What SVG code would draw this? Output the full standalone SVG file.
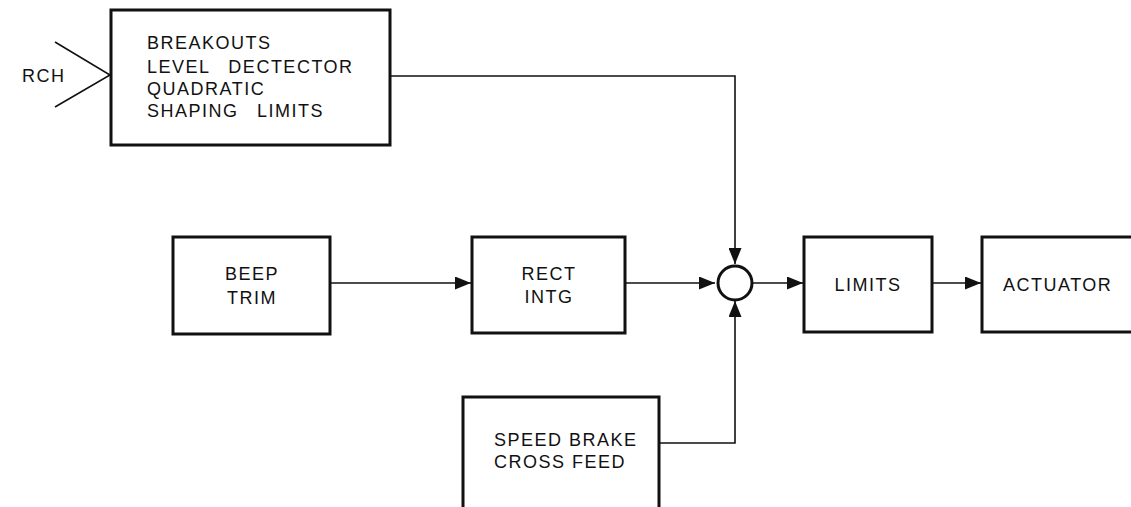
<svg xmlns="http://www.w3.org/2000/svg" width="1131" height="507" viewBox="0 0 1131 507">
<style>
.box{fill:#fff;stroke:#111;stroke-width:3}
.ln{fill:none;stroke:#111;stroke-width:1.6}
text{font-family:"Liberation Sans",Arial,sans-serif;font-size:18px;fill:#111;letter-spacing:1.5px}
.c{text-anchor:middle}
.ws{word-spacing:12px}
</style>
<defs>
<marker id="ah" viewBox="0 0 16 13" refX="16" refY="6.5" markerWidth="16" markerHeight="13" markerUnits="userSpaceOnUse" orient="auto">
<path d="M0,0 L16,6.5 L0,13 Z" fill="#111"/>
</marker>
</defs>
<rect width="1131" height="507" fill="#fff"/>
<g id="connectors">
<polyline class="ln" points="55,42 110,75 55,107"/>
<polyline class="ln" points="390,76 735,76 735,264" marker-end="url(#ah)"/>
<line class="ln" x1="330" y1="283" x2="471" y2="283" marker-end="url(#ah)"/>
<line class="ln" x1="625" y1="283" x2="715" y2="283" marker-end="url(#ah)"/>
<polyline class="ln" points="659,443 735,443 735,301" marker-end="url(#ah)"/>
<line class="ln" x1="752" y1="283" x2="803" y2="283" marker-end="url(#ah)"/>
<line class="ln" x1="932" y1="283" x2="981" y2="283" marker-end="url(#ah)"/>
</g>
<g id="rch"><text x="22" y="82" font-size="17">RCH</text></g>
<g id="breakouts">
<rect class="box" x="111" y="10" width="279" height="135"/>
<text x="147" y="49">BREAKOUTS</text>
<text class="ws" x="147" y="73">LEVEL DECTECTOR</text>
<text x="147" y="95">QUADRATIC</text>
<text class="ws" x="147" y="117">SHAPING LIMITS</text>
</g>
<g id="beep">
<rect class="box" x="173" y="237" width="157" height="97"/>
<text class="c" x="252" y="280">BEEP</text>
<text class="c" x="252" y="304">TRIM</text>
</g>
<g id="rect">
<rect class="box" x="472" y="237" width="153" height="96"/>
<text class="c" x="549" y="280">RECT</text>
<text class="c" x="549" y="303">INTG</text>
</g>
<g id="sum">
<circle cx="735" cy="283" r="17" fill="#fff" stroke="#111" stroke-width="3"/>
</g>
<g id="limits">
<rect class="box" x="804" y="237" width="128" height="95"/>
<text class="c" x="868" y="291">LIMITS</text>
</g>
<g id="actuator">
<rect class="box" x="982" y="237" width="160" height="95"/>
<text x="1003" y="291">ACTUATOR</text>
</g>
<g id="speedbrake">
<rect class="box" x="463" y="397" width="196" height="120"/>
<text x="494" y="446">SPEED BRAKE</text>
<text x="494" y="468">CROSS FEED</text>
</g>
</svg>
